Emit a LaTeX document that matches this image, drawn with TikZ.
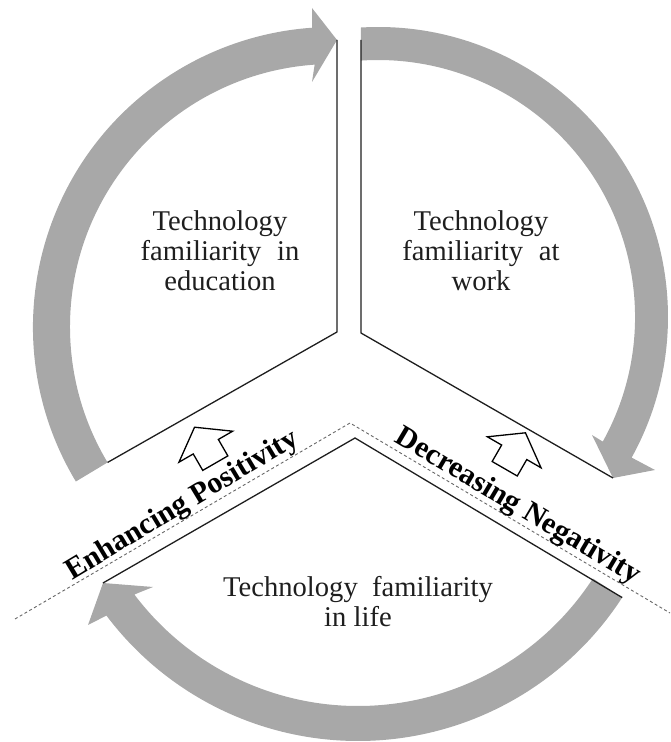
\documentclass[tikz,border=0pt]{standalone}
\usepackage{fontspec}
\setmainfont{Liberation Serif}
\usetikzlibrary{calc}
\definecolor{arcgray}{RGB}{168,168,168}
\definecolor{ink}{RGB}{30,30,30}
\begin{document}
\begin{tikzpicture}[x=1pt,y=1pt,
  band/.style={fill=arcgray},
  divider/.style={draw=ink, line width=1.3pt, line join=miter},
  guide/.style={draw=black!60, line width=0.9pt, dash pattern=on 3pt off 2.5pt},
  sector/.style={font=\fontsize{28.6}{30}\selectfont, text=ink, align=center, inner sep=0pt},
  axislabel/.style={font=\fontsize{30}{32}\selectfont\bfseries, text=black, inner sep=0pt, anchor=base},
  hollow/.style={draw=black, fill=white, line width=1.3pt, line join=miter},
  uparrow/.pic={\draw[hollow] (-14.5,-19) -- (-14.5,0) -- (-31,0) -- (0,22.5) -- (31,0) -- (14.5,0) -- (14.5,-19) -- cycle;}
]
\useasboundingbox (0,0) rectangle (670,742);
\coordinate (L) at (333,415);
\coordinate (R) at (378,425);
\coordinate (B) at (358,316);

% gray arc arrows
\fill[band] ($(L)+(211:300)$) arc[start angle=211,end angle=94,radius=300pt]
  -- (312,734) -- (337,702) -- (312,660) -- ($(L)+(94:263)$)
  arc[start angle=94,end angle=211,radius=263pt] -- cycle;
\fill[band] ($(R)+(93.4:290)$) arc[start angle=93.4,end angle=-29,radius=290pt]
  -- (655,272) -- (613,264) -- (592,307) -- ($(R)+(-29:257)$)
  arc[start angle=-29,end angle=93.8,radius=257pt] -- cycle;
\fill[band] ($(B)+(-33:315)$) arc[start angle=-33,end angle=-143,radius=315pt]
  -- (88,117) -- (103,159) -- (153,155) -- ($(B)+(-143:280)$)
  arc[start angle=-143,end angle=-33,radius=280pt] -- cycle;

% divider coordinates
\coordinate (tipL) at (337,702);
\coordinate (cornerL) at (337,410);
\coordinate (tailL) at ($(L)+(211:263)$);
\coordinate (topR) at (361,702);
\coordinate (cornerR) at (361,409);
\coordinate (tipR) at (613,264);
\coordinate (tipB) at (103,159);
\coordinate (peakB) at (355,304);
\coordinate (tailB) at ($(B)+(-33:315)$);
\coordinate (dL) at (15,123);
\coordinate (dP) at (350,319);
\coordinate (dR) at (670,129);

\draw[divider] (tipL) -- (cornerL) -- (tailL);
\draw[divider] (topR) -- (cornerR) -- (tipR);
\draw[divider] (tipB) -- (peakB) -- (tailB);
\draw[guide] (dL) -- (dP) -- (dR);

% hollow arrows
\pic[rotate=30] at (205.8,295.3) {uparrow};
\pic[rotate=-30] at (514.2,289.7) {uparrow};

% texts
\node[sector] (edu) at (220,491) {Technology\\familiarity\hspace{0.55em}in\\education};
\node[sector] (work) at (481,491) {Technology\\familiarity\hspace{0.55em}at\\work};
\node[sector] (life) at (358,140) {Technology\hspace{0.5em}familiarity\\in life};
\node[axislabel, rotate=31] (pos) at (186,230) {Enhancing Positivity};
\node[axislabel, rotate=-30.7] (neg) at (514,229) {Decreasing Negativity};
\end{tikzpicture}
\end{document}
